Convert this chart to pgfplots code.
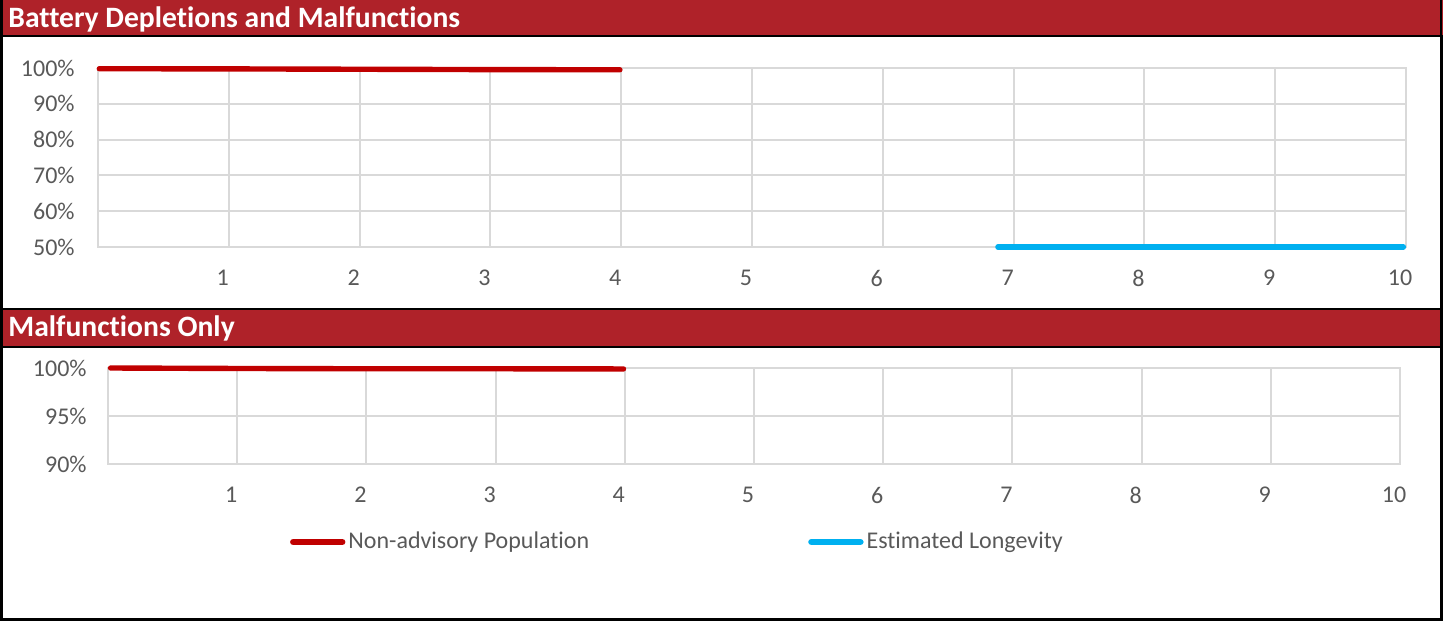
\documentclass[border=0pt]{standalone}
\usepackage{pgfplots}
\pgfplotsset{compat=1.18}
\usepackage{fontspec}
\setmainfont{Carlito}[Ligatures={NoCommon}]
\definecolor{barred}{HTML}{AF2229}
\definecolor{linered}{HTML}{C00000}
\definecolor{lineblue}{HTML}{00B0F0}
\definecolor{gridgray}{HTML}{D9D9D9}
\definecolor{labelgray}{HTML}{595959}
\pgfplotsset{
  panel/.style={
    anchor=south west, scale only axis, clip=false,
    xmin=0, xmax=10, xtick={1,...,10},
    xticklabels={1,2,3,4,5,6,7,8,9,10},
    grid=major,
    major grid style={line width=1pt, color=gridgray},
    axis line style={line width=1pt, color=gridgray},
    major tick length=0pt,
    tick label style={font=\fontsize{12}{14}\selectfont, text=labelgray, inner sep=0pt},
    xticklabel style={anchor=center, yshift=-15.5pt, xshift=-3pt},
    /pgf/number format/assume math mode=true,
  },
}
\begin{document}
\begin{tikzpicture}
\useasboundingbox (0,0) rectangle (721.5pt,311pt);
% title bars and frame
\fill[barred] (0,311pt) rectangle (721.5pt,293pt);
\draw[black,line width=1pt] (0,292.75pt) -- (721.5pt,292.75pt);
\fill[barred] (0,156.5pt) rectangle (721.5pt,137.5pt);
\draw[black,line width=1.2pt] (0,156.4pt) -- (721.5pt,156.4pt);
\draw[black,line width=1pt] (0,137.5pt) -- (721.5pt,137.5pt);
\draw[black,line width=1.5pt] (0.9pt,311pt) -- (0.9pt,1.2pt) -- (720.7pt,1.2pt) -- (720.7pt,292.75pt);
\draw[black,line width=1pt] (720.7pt,311pt) -- (720.7pt,292pt);
\node[anchor=base west, text=white, inner sep=0pt, font=\bfseries\fontsize{14.8}{16}\selectfont] at (4pt,297.4pt) {Battery Depletions and Malfunctions};
\node[anchor=base west, text=white, inner sep=0pt, font=\bfseries\fontsize{14.8}{16}\selectfont] at (4pt,142.6pt) {Malfunctions Only};

\begin{axis}[panel, at={(49pt,187.5pt)}, width=654pt, height=89.5pt,
  ymin=50, ymax=100, ytick={50,60,70,80,90,100},
  yticklabels={50\%,60\%,70\%,80\%,90\%,100\%},
  yticklabel style={anchor=east, xshift=-11.5pt},
]
\addplot[linered, line width=2.7pt, line cap=round] coordinates {(0.01,99.8) (1,99.75) (2,99.65) (3,99.55) (3.99,99.5)};
\addplot[lineblue, line width=2.7pt, line cap=round] coordinates {(6.88,50) (8,50) (9,50) (9.98,50)};
\end{axis}

\begin{axis}[panel, at={(54pt,79pt)}, width=646pt, height=48pt,
  ymin=90, ymax=100, ytick={90,95,100},
  yticklabels={90\%,95\%,100\%},
  yticklabel style={anchor=east, xshift=-10.5pt},
  legend columns=2,
  legend style={draw=none, fill=none, inner sep=0pt, outer sep=0pt,
    at={(axis description cs:0.1409,-0.8125)}, anchor=west,
    font=\fontsize{12}{14}\selectfont, text=labelgray,
    nodes={inner sep=1.5pt},
    /tikz/every even column/.append style={column sep=108pt}},
  legend image code/.code={\draw[#1, line width=3.2pt, line cap=round] (0pt,0pt) -- (24.5pt,0pt);},
]
\addplot[linered, line width=2.7pt, line cap=round] coordinates {(0.02,100) (1,99.95) (2,99.92) (3,99.92) (3.99,99.9)};
\addlegendentry{Non-advisory Population}
\addlegendimage{lineblue, line width=2.7pt, line cap=round}
\addlegendentry{Estimated Longevity}
\end{axis}
\end{tikzpicture}
\end{document}
